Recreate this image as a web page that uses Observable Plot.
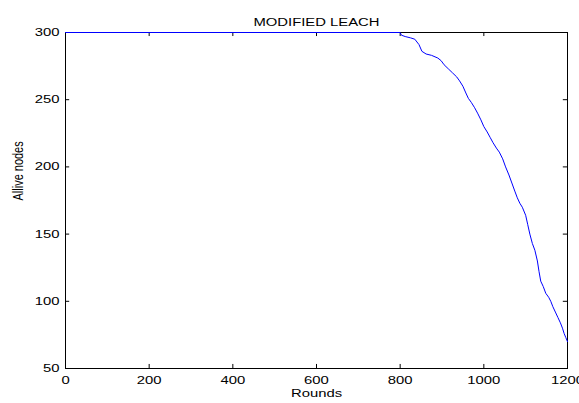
<!DOCTYPE html>
<html>
<head>
<meta charset="utf-8">
<script src="https://cdn.jsdelivr.net/npm/d3@7"></script>
<script src="https://cdn.jsdelivr.net/npm/@observablehq/plot@0.6"></script>
<style>
  html, body { margin: 0; padding: 0; background: #fff; }
  svg { display: block; }
</style>
</head>
<body>
<div id="chart"></div>
<script>
const rounds = [0, 800, 803, 812, 825, 835, 845, 852, 862, 875, 890, 898, 905, 915, 925, 935, 942, 950, 957, 963, 970, 978, 985, 993, 1000, 1008, 1015, 1022, 1030, 1037, 1045, 1052, 1060, 1067, 1074, 1080, 1086, 1092, 1100, 1105, 1110, 1116, 1122, 1128, 1132, 1136, 1142, 1148, 1155, 1160, 1165, 1171, 1177, 1183, 1188, 1192, 1196, 1200];
const alive  = [300, 300, 298, 297, 296, 295, 291, 286, 284, 283, 281, 279, 276, 273, 270, 267, 264, 260, 255, 251, 248, 244, 240, 235, 230, 226, 222, 218, 214, 211, 206, 200, 194, 188, 182, 177, 173, 170, 164, 157, 150, 143, 138, 130, 122, 115, 111, 106, 103, 100, 96, 92, 88, 84, 80, 76, 73, 70];
const xTicks = [0, 200, 400, 600, 800, 1000, 1200];
const yTicks = [50, 100, 150, 200, 250, 300];
const title = "MODIFIED LEACH";
const xLabel = "Rounds";
const yLabel = "Allive nodes";

const data = rounds.map((r, i) => ({r, a: alive[i]}));

const chart = Plot.plot({
  width: 579,
  height: 403,
  marginLeft: 65,
  marginRight: 12,
  marginTop: 32,
  marginBottom: 35,
  style: {fontFamily: "'Liberation Sans', Arial, sans-serif", fontSize: "11px", color: "#000", background: "#fff"},
  x: {domain: [0, 1200]},
  y: {domain: [50, 300]},
  marks: [
    Plot.ruleX(xTicks, {x: d => d, y1: 50, y2: 53, stroke: "#000"}),
    Plot.ruleX(xTicks, {x: d => d, y1: 300, y2: 297, stroke: "#000"}),
    Plot.ruleY(yTicks, {y: d => d, x1: 0, x2: 10, stroke: "#000"}),
    Plot.ruleY(yTicks, {y: d => d, x1: 1200, x2: 1190, stroke: "#000"}),
    Plot.frame({stroke: "#000", strokeWidth: 1}),
    Plot.line(data, {x: "r", y: "a", stroke: "#0000ff", strokeWidth: 1, curve: "linear"}),
    Plot.axisX(xTicks, {tickSize: 0, tickPadding: 8, label: null, fontSize: 11, tickFormat: d => String(d)}),
    Plot.axisY(yTicks, {tickSize: 0, tickPadding: 6, label: null, fontSize: 11, tickFormat: d => String(d)}),
    Plot.text([title], {frameAnchor: "top", dy: -14, fontSize: 11, fill: "#000"}),
    Plot.text([xLabel], {frameAnchor: "bottom", dy: 28, fontSize: 11, fill: "#000"}),
    Plot.text([yLabel], {frameAnchor: "left", dx: -47, rotate: -90, fontSize: 11, fill: "#000"})
  ]
});

// The reference's lettering is widened horizontally; stretch each text about its anchor.
const stretch = 1.35;
chart.querySelectorAll("text").forEach(t => {
  const xa = t.getAttribute("x"), ya = t.getAttribute("y");
  let tx = 0, ty = 0;
  if (xa !== null && xa !== "" && !isNaN(+xa)) { tx = +xa; t.removeAttribute("x"); }
  if (ya !== null && ya !== "" && !isNaN(+ya)) { ty = +ya; t.removeAttribute("y"); }
  const tr = t.getAttribute("transform") || "";
  const rotated = /rotate/.test(tr);
  t.setAttribute("transform", `${tr} translate(${tx},${ty}) ${rotated ? `scale(1,${stretch})` : `scale(${stretch},1)`}`);
});

document.getElementById("chart").appendChild(chart);
</script>
</body>
</html>
